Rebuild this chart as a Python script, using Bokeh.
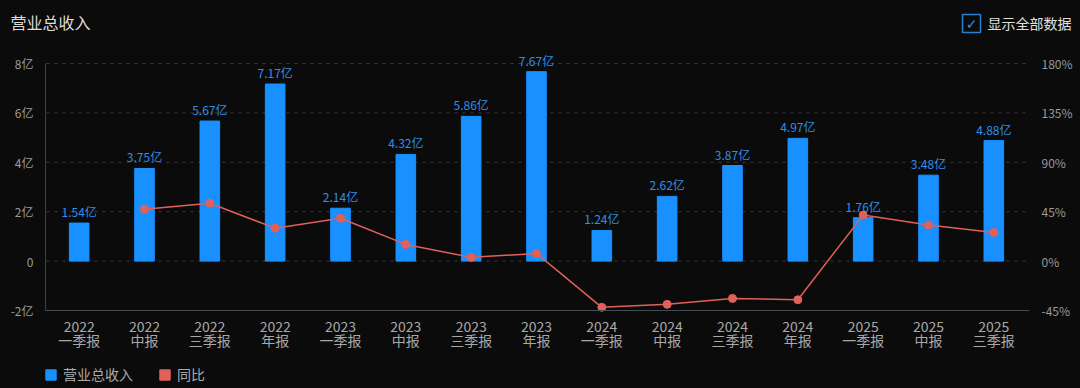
from bokeh.plotting import figure
from bokeh.models import (ColumnDataSource, Range1d, LinearAxis, FixedTicker, LabelSet,
                          Legend, LegendItem)
from bokeh.core.properties import value
from bokeh.embed import file_html
from bokeh.resources import INLINE

categories = ["2022\n一季报", "2022\n中报", "2022\n三季报", "2022\n年报",
              "2023\n一季报", "2023\n中报", "2023\n三季报", "2023\n年报",
              "2024\n一季报", "2024\n中报", "2024\n三季报", "2024\n年报",
              "2025\n一季报", "2025\n中报", "2025\n三季报"]
revenue = [1.54, 3.75, 5.67, 7.17, 2.14, 4.32, 5.86, 7.67, 1.24, 2.62, 3.87, 4.97, 1.76, 3.48, 4.88]
yoy = [float("nan"), 47.3, 52.7, 30.0, 39.0, 15.2, 3.4, 7.0, -42.1, -39.4, -34.0, -35.2, 41.9, 32.8, 26.1]
left_ticks = [-2, 0, 2, 4, 6, 8]
left_tick_labels = ["-2亿", "0", "2亿", "4亿", "6亿", "8亿"]
right_ticks = [-45, 0, 45, 90, 135, 180]
right_tick_labels = ["-45%", "0%", "45%", "90%", "135%", "180%"]
series_names = ["营业总收入", "同比"]
title_text = "营业总收入"
checkbox_text = "显示全部数据"

FONT = "Noto Sans CJK SC"
BG = "#0b0b0c"
BAR = "#1890ff"
RED = "#e0605a"
W, H = 1080, 388

# plot-area geometry in page pixels
X0_PX, X1_PX = 46, 1026      # category band edges
Y8_PX, YM2_PX = 63, 310      # pixel rows of 8亿 and -2亿
ux = (X1_PX - X0_PX) / len(categories)
uy = (YM2_PX - Y8_PX) / 10.0


def px2x(px):
    return -0.5 + (px - X0_PX) / ux


def py2y(py):
    return 8 - (py - Y8_PX) / uy


def py2pct(py):
    return 180 - (py - Y8_PX) / uy * 22.5


xs = list(range(len(categories)))
src = ColumnDataSource(dict(x=xs, rev=revenue, yoy=yoy,
                            lbl=[f"{v:.2f}亿" for v in revenue]))

p = figure(width=W, height=H, x_range=Range1d(px2x(0), px2x(W)),
           y_range=Range1d(py2y(H), py2y(0)),
           x_axis_location=None, y_axis_location=None,
           output_backend="svg", toolbar_location=None, min_border=0,
           background_fill_color=BG, border_fill_color=BG, outline_line_color=None)
p.extra_y_ranges = {"pct": Range1d(py2pct(H), py2pct(0))}
p.grid.grid_line_color = None

# dashed horizontal grid lines
grid_vals = [t for t in left_ticks if t >= 0]
p.segment(x0=[px2x(X0_PX)] * len(grid_vals), x1=[px2x(X1_PX - 1)] * len(grid_vals),
          y0=grid_vals, y1=grid_vals, line_color="#3c3c3c", line_dash="3 5", line_width=1)

bars = p.vbar(x="x", top="rev", width=0.30, source=src, color=BAR)
p.line(x="x", y="yoy", source=src, y_range_name="pct", line_color=RED, line_width=1.5)
p.scatter(x="x", y="yoy", source=src, y_range_name="pct", size=8, color=RED)
# legend proxy for the 同比 series (nothing visible in the plot)
proxy = p.vbar(x=[float("nan")], top=[0], width=0.3, color=RED)

p.add_layout(LabelSet(x="x", y="rev", text="lbl", source=src, y_offset=3,
                      text_align="center", text_baseline="bottom",
                      text_font=value(FONT), text_font_size="12px", text_color="#2f8fe8"))

# axes fixed inside the (full-canvas) frame
xa = LinearAxis(fixed_location=-2, ticker=FixedTicker(ticks=xs),
                bounds=(px2x(X0_PX - 1), px2x(X1_PX + 3)))
xa.major_label_overrides = dict(zip(xs, categories))
xa.axis_line_color = "#454a55"
xa.major_tick_line_color = None
xa.minor_tick_line_color = None
xa.major_label_text_color = "#a8a8a8"
xa.major_label_text_font = FONT
xa.major_label_text_font_size = "14px"
xa.major_label_text_line_height = 0.7
xa.major_label_standoff = -1
p.add_layout(xa, "below")

ya = LinearAxis(fixed_location=px2x(X0_PX - 1), ticker=FixedTicker(ticks=left_ticks),
                bounds=(-2, 8))
ya.major_label_overrides = dict(zip(left_ticks, left_tick_labels))
ya.axis_line_color = "#3a404c"
ya.major_tick_line_color = None
ya.minor_tick_line_color = None
ya.major_label_text_color = "#9a9a9a"
ya.major_label_text_font = FONT
ya.major_label_text_font_size = "12px"
ya.major_label_standoff = 6
p.add_layout(ya, "left")

ra = LinearAxis(y_range_name="pct", fixed_location=px2x(X1_PX), ticker=FixedTicker(ticks=right_ticks),
                bounds=(-45, 180))
ra.major_label_overrides = dict(zip(right_ticks, right_tick_labels))
ra.axis_line_color = None
ra.major_tick_line_color = None
ra.minor_tick_line_color = None
ra.major_label_text_color = "#9a9a9a"
ra.major_label_text_font = FONT
ra.major_label_text_font_size = "12px"
ra.major_label_standoff = 9
p.add_layout(ra, "right")

# header: title and checkbox
p.text(x=[px2x(10)], y=[py2y(21)], text=[title_text], text_font=value(FONT),
       text_font_size="16px", text_color="#dddddd", text_baseline="middle")
p.rect(x=[px2x(971)], y=[py2y(23)], width=18, height=18, width_units="screen",
       height_units="screen", fill_color=None, line_color="#2a7fd0", line_width=1.5)
p.text(x=[px2x(971)], y=[py2y(23.5)], text=["✓"], text_font=value("DejaVu Sans"),
       text_font_size="14px", text_color="#2f8fe8", text_align="center", text_baseline="middle")
p.text(x=[px2x(987)], y=[py2y(22)], text=[checkbox_text], text_font=value(FONT),
       text_font_size="14px", text_color="#e0e0e0", text_baseline="middle")

legend = Legend(items=[LegendItem(label=series_names[0], renderers=[bars]),
                       LegendItem(label=series_names[1], renderers=[proxy])],
                orientation="horizontal", location=(44, 4), padding=0, margin=0,
                glyph_width=13, glyph_height=13, label_standoff=6, spacing=25,
                label_text_font=FONT, label_text_font_size="14px",
                label_text_color="#aaaaaa", border_line_color=None,
                background_fill_alpha=0)
p.add_layout(legend, "center")

html = file_html(p, INLINE)
html = html.replace("<head>", "<head><style>html,body{background:#0b0b0c;}</style>", 1)
open("out.html", "w").write(html)
